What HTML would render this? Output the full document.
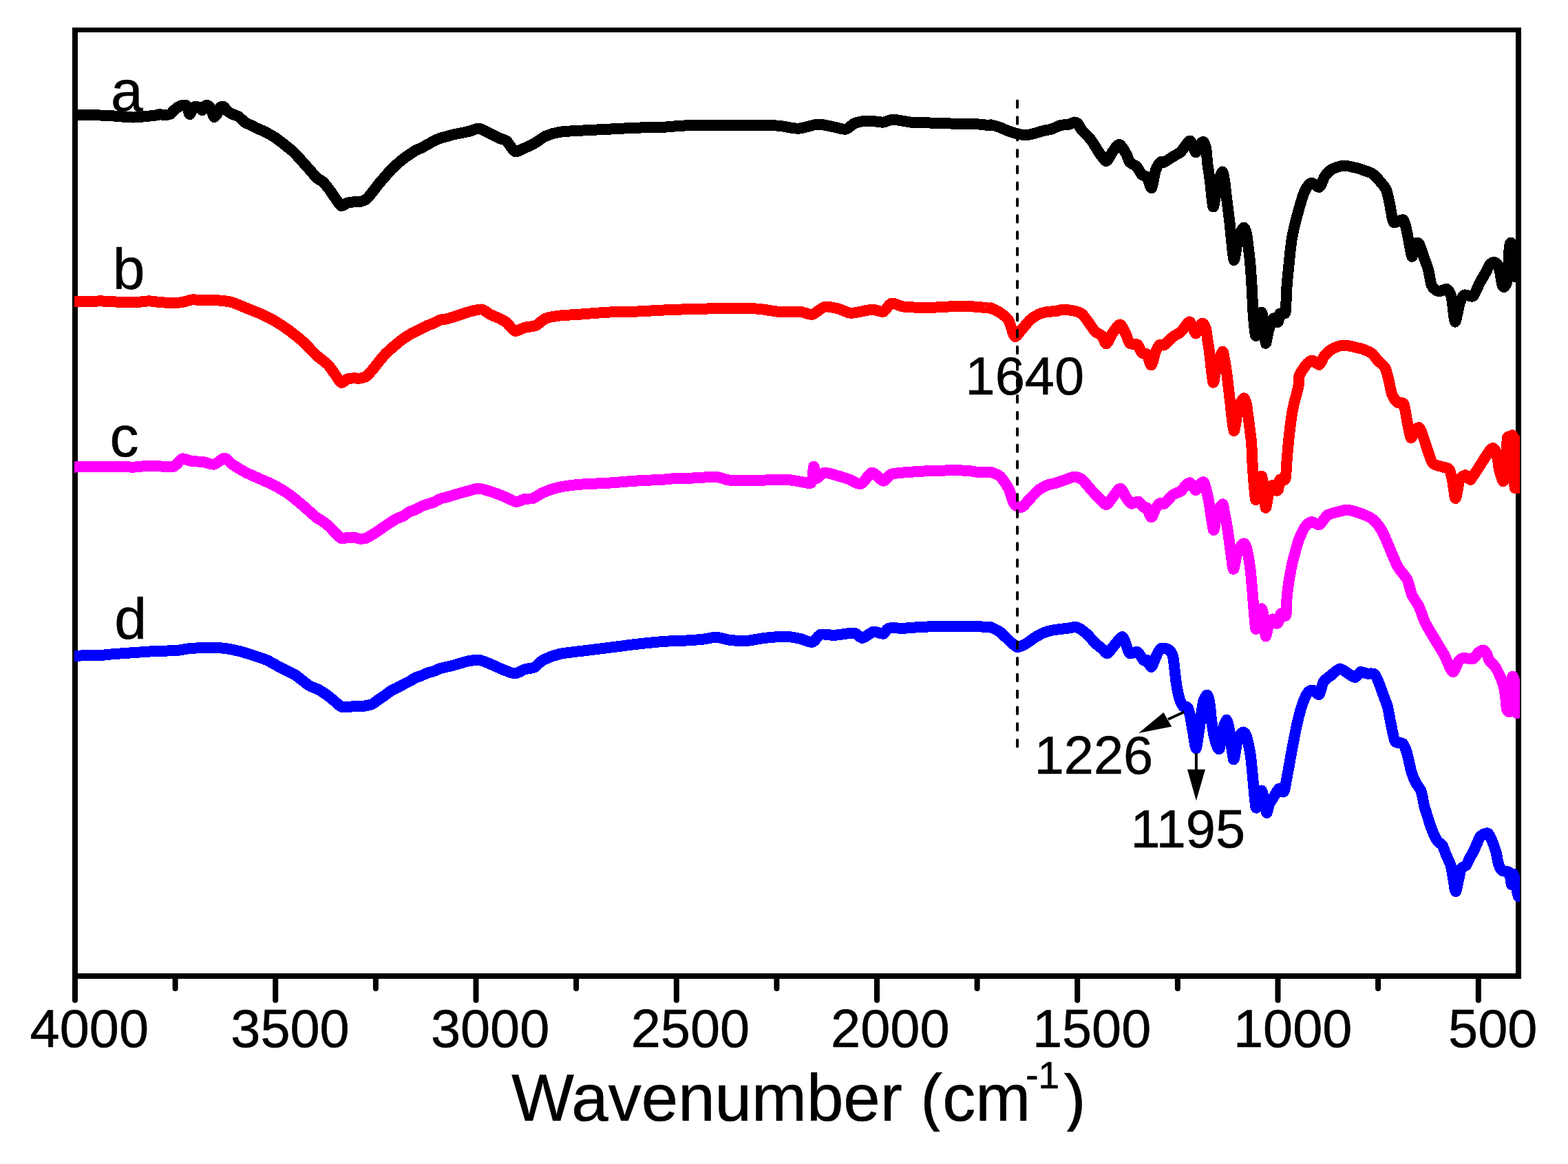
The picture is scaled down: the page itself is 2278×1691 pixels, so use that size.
<!DOCTYPE html><html><head><meta charset="utf-8"><title>FTIR spectra</title><style>html,body{margin:0;padding:0;background:#fff;}svg{display:block;}text{font-family:"Liberation Sans",Arial,sans-serif;}</style></head><body>
<svg xmlns="http://www.w3.org/2000/svg" width="2278" height="1691" viewBox="0 0 2278 1691">
<defs><clipPath id="pc"><rect x="108" y="40" width="2100" height="1380"/></clipPath><clipPath id="all"><rect x="0" y="0" width="2278" height="1644"/></clipPath></defs>
<rect width="2278" height="1691" fill="#fff"/>
<g clip-path="url(#all)">
<g fill="#000">
<rect x="105" y="40" width="105" height="7"/>
<rect x="105" y="40" width="2105" height="7"/>
<rect x="105" y="40" width="8" height="1382"/>
<rect x="2202" y="40" width="8" height="1382"/>
<rect x="105" y="1414" width="2105" height="8"/>
</g>
<path d="M109.0 1418V1453M254.6 1418V1436M400.2 1418V1453M545.9 1418V1436M691.5 1418V1453M837.1 1418V1436M982.8 1418V1453M1128.4 1418V1436M1274.0 1418V1453M1419.6 1418V1436M1565.2 1418V1453M1710.9 1418V1436M1856.5 1418V1453M2002.1 1418V1436M2147.8 1418V1453" stroke="#000" stroke-width="8" stroke-linecap="round" fill="none"/>
<text x="129.8" y="1521.1" font-size="77.5" text-anchor="middle" stroke="#000" stroke-width="0.6">4000</text>
<text x="421.5" y="1521.1" font-size="77.5" text-anchor="middle" stroke="#000" stroke-width="0.6">3500</text>
<text x="712.1" y="1521.1" font-size="77.5" text-anchor="middle" stroke="#000" stroke-width="0.6">3000</text>
<text x="1002.9" y="1521.0" font-size="77.5" text-anchor="middle" stroke="#000" stroke-width="0.6">2500</text>
<text x="1293.3" y="1521.0" font-size="77.5" text-anchor="middle" stroke="#000" stroke-width="0.6">2000</text>
<text x="1586.1" y="1521.0" font-size="77.5" text-anchor="middle" stroke="#000" stroke-width="0.6">1500</text>
<text x="1878.2" y="1521.1" font-size="77.5" text-anchor="middle" stroke="#000" stroke-width="0.6">1000</text>
<text x="2168.7" y="1521.1" font-size="77.5" text-anchor="middle" stroke="#000" stroke-width="0.6">500</text>
<text x="743.3" y="1628.3" font-size="96" stroke="#000" stroke-width="0.6">Wavenumber (cm</text>
<text x="1490.2" y="1580.7" font-size="55" stroke="#000" stroke-width="0.6">-1</text>
<text x="1545.4" y="1628.5" font-size="96" stroke="#000" stroke-width="0.6">)</text>
<text x="160.9" y="161.0" font-size="84" stroke="#000" stroke-width="0.6">a</text>
<text x="163.8" y="419.5" font-size="84" stroke="#000" stroke-width="0.6">b</text>
<text x="159.5" y="663.0" font-size="84" stroke="#000" stroke-width="0.6">c</text>
<text x="166.2" y="928.3" font-size="84" stroke="#000" stroke-width="0.6">d</text>
<text x="1402.6" y="572.6" font-size="77.5" stroke="#000" stroke-width="0.6">1640</text>
<text x="1502.7" y="1124.1" font-size="77.5" stroke="#000" stroke-width="0.6">1226</text>
<text x="1642.4" y="1230.7" font-size="77.5" stroke="#000" stroke-width="0.6">1195</text>
<g clip-path="url(#pc)" fill="none" stroke-width="16" stroke-linejoin="round" stroke-linecap="round" shape-rendering="crispEdges">
<path d="M108.0 167.5C108.7 167.5 108.0 167.5 113.0 167.5C118.0 167.5 138.4 167.4 145.4 167.5C152.4 167.6 159.1 168.1 165.6 168.5C172.1 168.9 185.9 170.6 194.0 170.5C202.1 170.4 221.5 168.0 226.3 167.5C231.1 167.0 227.4 166.5 230.0 166.4C232.6 166.3 243.1 167.1 246.0 166.4C248.9 165.7 250.4 162.4 252.0 161.0C253.6 159.6 256.3 157.1 258.0 156.0C259.7 154.9 263.4 153.4 265.0 153.0C266.6 152.6 268.9 152.3 270.0 153.0C271.1 153.7 272.3 156.3 273.0 158.0C273.7 159.7 274.7 165.7 275.5 166.0C276.3 166.3 278.0 161.5 279.0 160.0C280.0 158.5 281.7 155.5 283.0 155.0C284.3 154.5 287.5 155.3 289.0 156.0C290.5 156.7 292.8 160.3 294.0 160.0C295.2 159.7 297.1 154.9 298.0 154.0C298.9 153.1 300.1 152.7 301.0 153.0C301.9 153.3 304.1 154.8 305.0 156.0C305.9 157.2 307.2 160.1 308.0 162.0C308.8 163.9 310.1 169.5 311.0 170.0C311.9 170.5 313.8 167.9 315.0 166.0C316.2 164.1 318.7 157.5 320.0 156.0C321.3 154.5 323.7 154.3 325.0 155.0C326.3 155.7 328.3 159.5 330.0 161.0C331.7 162.5 335.6 164.8 337.8 165.9C340.0 167.0 344.4 167.9 346.8 169.5C349.2 171.1 353.4 175.9 355.8 177.6C358.2 179.3 362.4 180.8 364.8 182.0C367.2 183.2 371.4 185.5 373.8 186.6C376.2 187.7 380.4 189.4 382.8 190.5C385.2 191.6 389.3 193.8 391.7 195.1C394.1 196.4 398.3 198.9 400.7 200.5C403.1 202.1 407.3 205.4 409.7 207.3C412.1 209.2 416.3 212.5 418.7 214.5C421.1 216.5 423.7 218.0 427.7 222.1C431.7 226.2 444.4 240.5 448.7 245.3C453.0 250.1 457.3 255.8 460.0 258.3C462.7 260.8 466.6 261.8 469.0 264.0C471.4 266.2 475.6 271.6 478.0 274.8C480.4 278.0 484.6 284.6 487.0 287.8C489.4 291.0 493.5 298.1 495.9 299.0C498.3 299.9 502.5 295.3 504.9 294.6C507.3 293.9 511.5 293.6 513.9 293.4C516.3 293.2 520.5 293.5 522.9 293.0C525.3 292.5 529.5 291.4 531.9 289.6C534.3 287.8 538.5 282.2 540.9 279.3C543.3 276.4 547.4 270.5 549.8 267.6C552.2 264.7 556.4 260.1 558.8 257.3C561.2 254.5 565.4 249.4 567.8 246.9C570.2 244.4 574.4 240.5 576.8 238.4C579.2 236.3 583.4 232.7 585.8 230.8C588.2 228.9 592.4 226.1 594.8 224.5C597.2 222.9 601.4 219.9 603.8 218.6C606.2 217.3 610.3 215.8 612.7 214.6C615.1 213.4 619.3 210.9 621.7 209.6C624.1 208.3 628.3 205.9 630.7 204.7C633.1 203.5 637.3 201.5 639.7 200.7C642.1 199.9 646.3 199.1 648.7 198.4C651.1 197.7 653.3 196.7 657.7 195.7C662.1 194.7 676.4 192.0 681.5 190.8C686.6 189.6 691.7 186.3 695.7 186.7C699.7 187.1 707.8 191.9 711.8 193.8C715.8 195.7 722.8 199.4 726.0 200.9C729.2 202.4 733.0 202.5 736.0 205.0C739.0 207.5 744.7 218.7 748.2 220.0C751.7 221.3 758.4 216.7 762.4 215.0C766.4 213.3 774.5 209.3 778.5 207.0C782.5 204.7 788.1 199.8 792.7 197.8C797.3 195.8 806.3 192.9 813.0 191.8C819.7 190.7 833.8 190.2 843.2 189.7C852.6 189.2 872.9 188.2 883.7 187.7C894.5 187.2 913.2 186.1 924.0 185.7C934.8 185.3 955.7 185.1 964.5 184.7C973.3 184.3 982.5 183.1 990.0 182.7C997.5 182.3 1010.9 181.8 1020.4 181.7C1029.9 181.6 1050.1 181.6 1060.9 181.7C1071.7 181.8 1091.9 182.2 1101.3 182.3C1110.7 182.4 1123.8 182.1 1131.6 182.7C1139.4 183.3 1152.5 187.0 1160.0 186.7C1167.5 186.4 1181.2 180.9 1188.2 180.6C1195.2 180.3 1207.1 183.8 1212.5 184.7C1217.9 185.6 1224.6 188.5 1228.6 187.7C1232.6 186.9 1238.2 180.2 1242.8 178.6C1247.4 177.0 1257.6 175.7 1263.0 175.6C1268.4 175.5 1278.6 177.9 1283.2 177.6C1287.8 177.3 1292.0 173.6 1297.4 173.6C1302.8 173.6 1316.2 176.9 1323.7 177.6C1331.2 178.3 1345.9 178.3 1354.0 178.6C1362.1 178.9 1375.5 179.4 1384.3 179.6C1393.1 179.8 1412.8 180.1 1420.0 180.4C1427.2 180.7 1435.3 182.1 1438.0 182.2C1440.7 182.3 1438.1 181.0 1440.0 181.4C1441.9 181.8 1449.2 183.8 1452.6 185.0C1456.0 186.2 1461.9 189.3 1465.2 190.5C1468.5 191.7 1474.4 193.4 1477.7 194.2C1481.0 195.0 1486.9 196.4 1490.3 196.3C1493.7 196.2 1499.5 194.6 1502.9 193.8C1506.3 193.0 1512.2 190.8 1515.5 190.0C1518.8 189.2 1524.7 188.6 1528.0 187.5C1531.3 186.4 1537.2 183.0 1540.6 182.1C1544.0 181.2 1550.5 181.4 1553.2 180.8C1555.9 180.2 1559.1 177.6 1560.8 177.5C1562.5 177.4 1564.5 178.4 1566.0 180.0C1567.5 181.6 1569.6 186.6 1572.1 189.6C1574.6 192.6 1581.4 198.4 1584.7 202.8C1588.0 207.2 1594.2 218.1 1597.2 222.3C1600.2 226.5 1604.8 234.2 1607.3 234.0C1609.8 233.8 1613.6 224.2 1616.1 221.0C1618.6 217.8 1623.5 209.5 1626.2 209.8C1628.9 210.1 1634.2 220.2 1636.2 223.6C1638.2 227.0 1639.3 233.0 1641.3 235.5C1643.3 238.0 1649.0 239.7 1651.3 242.1C1653.6 244.5 1656.9 251.7 1658.9 253.8C1660.9 255.9 1664.5 254.9 1666.4 257.5C1668.3 260.1 1671.3 274.4 1673.0 273.0C1674.7 271.6 1677.2 252.1 1679.0 247.0C1680.8 241.9 1684.8 236.5 1686.5 235.0C1688.2 233.5 1689.2 236.5 1691.6 235.5C1694.0 234.5 1701.1 229.3 1704.2 227.4C1707.3 225.5 1712.6 223.1 1715.0 221.0C1717.4 218.9 1720.1 214.2 1722.0 212.0C1723.9 209.8 1727.5 203.6 1729.5 204.8C1731.5 206.0 1735.3 220.0 1736.8 221.2C1738.3 222.4 1739.5 216.0 1741.0 214.0C1742.5 212.0 1746.2 205.9 1747.7 206.0C1749.2 206.1 1751.1 210.7 1752.0 215.0C1752.9 219.3 1753.6 232.0 1754.4 238.4C1755.2 244.8 1757.0 254.5 1758.0 262.7C1759.0 270.9 1761.1 297.0 1762.2 300.0C1763.3 303.0 1765.0 289.5 1766.0 285.0C1767.0 280.5 1768.7 270.7 1770.0 266.0C1771.3 261.3 1774.4 250.1 1775.6 249.6C1776.8 249.1 1778.2 257.0 1779.0 262.0C1779.8 267.0 1780.9 278.7 1781.9 286.9C1782.9 295.1 1785.1 311.1 1786.5 323.2C1787.9 335.3 1791.0 373.9 1792.5 377.5C1794.0 381.1 1796.6 355.5 1798.0 350.0C1799.4 344.5 1801.7 338.6 1803.0 336.0C1804.3 333.4 1806.4 330.3 1807.5 330.8C1808.6 331.3 1810.2 336.2 1811.0 340.0C1811.8 343.8 1813.0 353.9 1813.7 359.6C1814.4 365.3 1815.6 374.8 1816.3 382.7C1817.0 390.6 1818.2 409.3 1818.8 419.0C1819.4 428.7 1819.9 446.1 1820.6 455.3C1821.3 464.5 1823.2 485.8 1824.2 487.8C1825.2 489.8 1826.9 474.5 1828.0 470.0C1829.1 465.5 1831.6 453.8 1832.7 453.8C1833.8 453.8 1835.2 464.0 1836.0 470.0C1836.8 476.0 1837.9 497.4 1838.8 498.7C1839.7 500.0 1841.5 484.8 1843.0 480.0C1844.5 475.2 1848.4 464.4 1849.7 462.8C1851.0 461.2 1852.0 467.4 1853.0 468.0C1854.0 468.6 1856.1 469.0 1856.9 467.4C1857.7 465.8 1858.4 457.5 1859.3 456.0C1860.2 454.5 1862.9 456.5 1864.0 456.0C1865.1 455.5 1867.1 456.9 1867.8 452.0C1868.5 447.1 1868.6 428.2 1869.3 419.0C1870.0 409.8 1871.7 392.4 1872.7 382.7C1873.7 373.0 1875.2 356.0 1876.9 346.3C1878.6 336.6 1882.9 319.2 1885.4 310.0C1887.9 300.8 1892.9 283.4 1895.6 277.5C1898.3 271.6 1902.5 266.7 1905.3 265.9C1908.1 265.1 1914.3 273.0 1916.9 271.7C1919.5 270.4 1922.3 259.6 1924.6 256.2C1926.9 252.8 1930.7 248.6 1934.3 246.5C1937.9 244.4 1946.6 241.0 1951.8 240.7C1957.0 240.4 1969.2 243.7 1973.0 244.6C1976.8 245.5 1977.3 246.1 1980.0 247.1C1982.7 248.1 1990.2 249.9 1993.6 252.2C1997.0 254.5 2002.7 260.9 2005.4 264.1C2008.1 267.3 2012.1 271.6 2013.9 275.9C2015.7 280.2 2017.7 290.2 2019.0 296.3C2020.3 302.4 2022.4 318.3 2024.0 321.7C2025.6 325.1 2028.8 321.9 2030.8 321.7C2032.8 321.5 2037.5 317.7 2039.3 320.0C2041.1 322.3 2042.8 331.6 2044.4 338.6C2046.0 345.6 2049.8 370.2 2051.2 372.5C2052.6 374.8 2053.2 358.1 2054.6 355.6C2056.0 353.1 2059.6 351.6 2061.4 353.9C2063.2 356.2 2066.3 367.5 2068.1 372.5C2069.9 377.5 2073.3 385.5 2074.9 391.2C2076.5 396.9 2078.0 410.6 2080.0 414.9C2082.0 419.2 2087.3 422.7 2090.2 423.4C2093.1 424.1 2099.5 418.9 2102.0 420.0C2104.5 421.1 2107.2 425.6 2108.8 431.9C2110.4 438.2 2112.3 466.4 2113.9 467.5C2115.5 468.6 2118.9 445.5 2120.7 440.3C2122.5 435.1 2124.9 429.8 2127.5 428.5C2130.1 427.2 2137.1 432.5 2140.0 430.3C2142.9 428.1 2146.7 416.7 2149.1 412.2C2151.5 407.7 2156.2 399.9 2158.2 396.3C2160.2 392.7 2162.4 387.0 2164.0 385.0C2165.6 383.0 2168.5 381.1 2170.0 381.0C2171.5 380.9 2173.8 382.1 2175.0 384.0C2176.2 385.9 2178.1 391.3 2179.0 395.0C2179.9 398.7 2181.2 409.1 2182.0 412.0C2182.8 414.9 2184.1 417.3 2185.0 417.0C2185.9 416.7 2188.2 413.6 2189.0 410.0C2189.8 406.4 2190.5 396.9 2191.0 390.0C2191.5 383.1 2192.3 362.8 2193.0 358.0C2193.7 353.2 2195.2 351.1 2196.0 354.0C2196.8 356.9 2198.3 373.6 2199.0 380.0C2199.7 386.4 2200.2 400.0 2201.0 402.0C2201.8 404.0 2203.9 395.9 2205.0 395.0C2206.1 394.1 2208.5 395.0 2209.0 395.0" stroke="#000000"/>
<path d="M108.0 438.4C110.3 438.4 120.2 438.5 125.2 438.4C130.2 438.3 140.0 437.4 145.4 437.4C150.8 437.4 159.1 438.1 165.6 438.4C172.1 438.7 187.3 439.5 194.0 439.4C200.7 439.3 210.5 437.4 216.2 437.4C221.9 437.4 230.2 439.1 236.4 439.4C242.6 439.7 257.0 439.9 262.7 439.4C268.4 438.9 274.6 435.8 278.9 435.4C283.2 435.0 289.9 436.3 295.0 436.4C300.1 436.5 311.6 436.0 317.3 436.4C323.0 436.8 332.1 437.9 337.5 439.4C342.9 440.9 352.3 445.3 357.7 447.5C363.1 449.7 372.5 453.2 377.9 455.6C383.3 458.0 392.7 462.6 398.1 465.7C403.5 468.8 412.9 474.9 418.3 478.8C423.7 482.7 433.0 490.0 438.6 495.0C444.2 500.0 455.9 512.6 460.0 516.4C464.1 520.2 466.6 521.6 469.0 523.6C471.4 525.6 475.6 528.9 478.0 531.6C480.4 534.3 484.6 541.0 487.0 544.2C489.4 547.4 493.5 555.1 495.9 555.9C498.3 556.7 502.5 551.4 504.9 550.5C507.3 549.6 511.5 549.5 513.9 549.4C516.3 549.3 520.5 549.9 522.9 549.6C525.3 549.3 529.5 548.5 531.9 546.9C534.3 545.3 538.5 540.2 540.9 537.5C543.3 534.8 547.4 529.2 549.8 526.3C552.2 523.4 556.4 518.1 558.8 515.5C561.2 512.9 565.4 509.1 567.8 506.9C570.2 504.7 574.4 501.3 576.8 499.3C579.2 497.3 583.4 493.8 585.8 492.1C588.2 490.4 592.4 487.7 594.8 486.3C597.2 484.9 601.4 483.0 603.8 481.8C606.2 480.6 610.3 478.5 612.7 477.3C615.1 476.1 619.3 473.9 621.7 472.8C624.1 471.7 628.3 470.3 630.7 469.2C633.1 468.1 637.3 465.5 639.7 464.7C642.1 463.9 646.3 463.9 648.7 463.4C651.1 462.9 653.3 462.1 657.7 460.7C662.1 459.3 675.9 454.5 681.5 453.0C687.1 451.5 695.7 449.0 699.7 449.5C703.7 450.0 708.3 454.8 711.8 456.6C715.3 458.4 722.8 461.1 726.0 462.7C729.2 464.3 733.0 466.3 736.0 468.7C739.0 471.1 744.7 480.0 748.2 480.9C751.7 481.8 758.4 476.9 762.4 475.8C766.4 474.7 774.5 474.5 778.5 472.8C782.5 471.1 788.1 464.6 792.7 462.7C797.3 460.8 806.3 459.4 813.0 458.6C819.7 457.8 833.8 457.3 843.2 456.6C852.6 455.9 872.9 454.1 883.7 453.6C894.5 453.1 913.2 453.0 924.0 452.6C934.8 452.2 955.7 450.9 964.5 450.5C973.3 450.1 982.5 449.7 990.0 449.5C997.5 449.3 1010.9 448.9 1020.4 448.7C1029.9 448.5 1050.1 447.7 1060.9 447.7C1071.7 447.7 1091.9 448.0 1101.3 448.7C1110.7 449.4 1123.5 452.3 1131.6 452.8C1139.7 453.3 1155.5 452.3 1162.0 452.8C1168.5 453.3 1175.3 457.7 1180.1 456.8C1184.9 455.9 1193.2 446.8 1198.3 445.7C1203.4 444.6 1213.4 447.5 1218.5 448.7C1223.6 449.9 1230.2 454.7 1236.7 454.8C1243.2 454.9 1260.8 450.0 1267.0 449.7C1273.2 449.4 1279.4 454.0 1283.2 452.8C1287.0 451.6 1291.3 441.5 1295.4 440.6C1299.5 439.7 1305.8 444.9 1313.6 445.7C1321.4 446.5 1343.2 446.8 1354.0 446.7C1364.8 446.6 1385.6 444.8 1394.4 444.7C1403.2 444.6 1414.2 445.5 1420.0 445.9C1425.8 446.3 1435.3 447.5 1438.0 447.7C1440.7 447.9 1438.1 446.9 1440.0 447.7C1441.9 448.5 1449.2 451.7 1452.6 454.0C1456.0 456.3 1462.3 460.7 1465.2 465.3C1468.1 469.9 1471.5 486.8 1474.0 488.7C1476.5 490.6 1481.0 482.4 1484.0 479.2C1487.0 476.0 1493.2 467.7 1496.6 464.7C1500.0 461.7 1505.8 458.1 1509.2 456.5C1512.6 454.9 1518.5 453.6 1521.8 453.0C1525.1 452.4 1531.5 452.5 1534.3 452.1C1537.1 451.7 1539.7 450.1 1543.1 450.0C1546.5 449.9 1555.6 450.7 1559.5 451.5C1563.4 452.3 1568.7 453.4 1572.1 456.3C1575.5 459.2 1582.2 469.5 1584.7 472.9C1587.2 476.3 1588.8 479.7 1591.0 481.7C1593.2 483.7 1598.8 485.6 1601.0 488.0C1603.2 490.4 1605.3 499.9 1607.3 499.4C1609.3 498.9 1613.4 487.9 1616.1 484.2C1618.8 480.5 1624.7 471.2 1627.4 471.5C1630.1 471.8 1634.3 483.1 1636.2 486.7C1638.1 490.3 1639.1 496.8 1641.3 498.7C1643.5 500.6 1650.3 499.0 1652.6 500.8C1654.9 502.6 1657.1 510.6 1658.9 512.5C1660.7 514.4 1664.6 512.6 1666.4 515.0C1668.2 517.4 1671.0 530.9 1672.7 530.3C1674.4 529.7 1677.3 514.5 1679.0 510.6C1680.7 506.7 1683.6 502.1 1685.3 500.8C1687.0 499.5 1689.1 502.7 1691.6 501.2C1694.1 499.7 1701.1 491.7 1704.2 489.2C1707.3 486.7 1712.6 484.7 1715.0 482.7C1717.4 480.7 1720.1 476.0 1722.0 474.0C1723.9 472.0 1726.9 466.4 1728.9 467.8C1730.9 469.2 1735.2 483.1 1736.8 484.3C1738.4 485.5 1739.6 479.0 1741.0 477.0C1742.4 475.0 1745.6 469.5 1747.1 469.6C1748.6 469.7 1751.0 474.6 1752.0 478.0C1753.0 481.4 1753.8 490.7 1754.5 495.0C1755.2 499.3 1756.0 502.6 1757.0 510.6C1758.0 518.6 1761.0 551.2 1762.2 555.1C1763.4 559.0 1765.0 544.0 1766.0 540.0C1767.0 536.0 1768.6 528.9 1770.0 525.0C1771.4 521.1 1775.0 511.2 1776.2 510.8C1777.4 510.4 1778.1 517.2 1779.0 522.0C1779.9 526.8 1781.7 538.7 1782.8 546.9C1783.9 555.1 1785.8 572.7 1787.1 583.2C1788.4 593.7 1791.0 624.0 1792.5 626.0C1794.0 628.0 1796.6 603.6 1798.0 598.0C1799.4 592.4 1801.7 586.6 1803.0 584.0C1804.3 581.4 1806.4 578.0 1807.5 578.5C1808.6 579.0 1810.2 584.1 1811.0 588.0C1811.8 591.9 1812.7 599.8 1813.7 607.4C1814.7 615.0 1817.4 635.0 1818.2 644.8C1819.0 654.6 1819.2 670.3 1820.0 681.1C1820.8 691.9 1823.1 722.1 1824.2 725.7C1825.3 729.3 1826.9 712.5 1828.0 708.0C1829.1 703.5 1831.6 691.3 1832.7 691.6C1833.8 691.9 1835.2 703.8 1836.0 710.0C1836.8 716.2 1837.9 736.7 1838.8 737.8C1839.7 738.9 1841.7 722.4 1843.0 718.0C1844.3 713.6 1847.1 705.8 1848.4 705.0C1849.7 704.2 1851.9 711.1 1853.0 712.0C1854.1 712.9 1856.1 713.4 1856.9 711.4C1857.7 709.4 1858.4 698.8 1859.3 697.0C1860.2 695.2 1862.9 698.4 1864.0 698.0C1865.1 697.6 1867.1 697.9 1867.8 694.0C1868.5 690.1 1868.9 677.2 1869.6 669.0C1870.3 660.8 1871.8 642.4 1872.9 632.7C1874.0 623.0 1876.0 606.0 1877.8 596.3C1879.6 586.6 1885.3 566.8 1886.6 560.0C1887.9 553.2 1886.1 549.5 1887.8 545.2C1889.5 540.9 1896.9 530.6 1899.5 527.8C1902.1 525.0 1904.9 523.6 1907.2 523.9C1909.5 524.2 1914.6 530.7 1916.9 529.7C1919.2 528.7 1921.8 519.4 1924.6 516.2C1927.4 513.0 1934.3 507.4 1938.2 505.5C1942.1 503.6 1949.1 501.6 1953.7 501.6C1958.3 501.6 1969.5 504.8 1973.0 505.5C1976.5 506.2 1977.3 506.0 1980.0 507.1C1982.7 508.2 1990.7 511.6 1993.6 513.9C1996.5 516.2 1999.5 521.3 2002.0 524.0C2004.5 526.7 2010.2 530.6 2012.2 534.2C2014.2 537.8 2015.9 546.0 2017.3 551.2C2018.7 556.4 2020.6 568.7 2022.4 573.2C2024.2 577.7 2028.5 583.3 2030.8 585.1C2033.1 586.9 2037.5 583.2 2039.3 586.8C2041.1 590.4 2043.0 605.7 2044.4 612.2C2045.8 618.7 2047.9 634.3 2049.5 635.9C2051.1 637.5 2054.5 625.9 2056.3 624.1C2058.1 622.3 2061.2 620.1 2063.0 622.4C2064.8 624.7 2068.0 635.8 2069.8 641.0C2071.6 646.2 2075.0 657.1 2076.6 661.4C2078.2 665.7 2079.2 670.9 2081.7 673.2C2084.2 675.5 2092.1 677.2 2095.3 678.3C2098.5 679.4 2103.4 678.8 2105.4 681.7C2107.4 684.6 2109.3 694.6 2110.5 700.3C2111.7 706.0 2113.3 724.6 2114.7 724.1C2116.1 723.6 2118.8 701.4 2120.7 696.9C2122.6 692.4 2127.2 690.2 2129.2 690.2C2131.2 690.2 2134.5 696.7 2135.9 696.9C2137.3 697.1 2138.2 694.2 2140.0 691.7C2141.8 689.2 2146.7 681.7 2149.1 678.0C2151.5 674.3 2156.2 666.7 2158.2 663.6C2160.2 660.5 2162.6 656.7 2164.0 655.0C2165.4 653.3 2167.8 650.9 2169.0 651.0C2170.2 651.1 2172.1 653.7 2173.0 656.0C2173.9 658.3 2175.3 664.5 2176.0 668.0C2176.7 671.5 2177.3 678.8 2178.0 682.0C2178.7 685.2 2180.2 689.7 2181.0 692.0C2181.8 694.3 2183.2 699.3 2184.0 699.0C2184.8 698.7 2186.4 695.2 2187.0 690.0C2187.6 684.8 2188.1 667.2 2188.5 660.0C2188.9 652.8 2189.4 638.7 2190.0 636.0C2190.6 633.3 2192.5 633.3 2193.0 640.0C2193.5 646.7 2193.6 686.5 2194.0 686.0C2194.4 685.5 2195.3 642.1 2196.0 636.0C2196.7 629.9 2198.5 631.5 2199.0 640.0C2199.5 648.5 2199.6 691.3 2200.0 700.0C2200.4 708.7 2201.5 713.0 2202.0 705.0C2202.5 697.0 2203.5 640.0 2204.0 640.0C2204.5 640.0 2205.3 696.3 2206.0 705.0C2206.7 713.7 2208.6 705.0 2209.0 705.0" stroke="#ff0000"/>
<path d="M108.0 678.6C110.3 678.5 120.2 677.7 125.2 677.6C130.2 677.5 140.0 677.6 145.4 677.6C150.8 677.6 159.1 677.5 165.6 677.6C172.1 677.7 187.3 678.7 194.0 678.6C200.7 678.5 210.5 676.7 216.2 676.6C221.9 676.5 231.5 677.5 236.4 677.6C241.3 677.7 248.8 679.1 252.6 677.6C256.4 676.1 261.5 667.6 264.7 666.5C267.9 665.4 272.5 668.8 276.8 669.5C281.1 670.2 292.4 670.8 297.0 671.5C301.6 672.2 307.3 675.4 311.2 674.6C315.1 673.8 322.9 665.5 326.4 665.5C329.9 665.5 333.3 671.8 337.5 674.6C341.7 677.4 352.3 683.9 357.7 686.7C363.1 689.5 372.5 693.4 377.9 695.8C383.3 698.2 392.7 702.1 398.1 704.9C403.5 707.7 412.9 713.2 418.3 717.0C423.7 720.8 433.0 728.5 438.6 733.2C444.2 737.9 455.9 748.8 460.0 752.0C464.1 755.2 466.6 755.7 469.0 757.4C471.4 759.1 475.6 762.4 478.0 764.6C480.4 766.8 484.6 771.7 487.0 774.0C489.4 776.3 493.5 781.2 495.9 782.1C498.3 783.0 502.5 781.1 504.9 780.9C507.3 780.7 511.5 780.5 513.9 780.7C516.3 780.9 520.5 782.6 522.9 782.7C525.3 782.8 529.5 782.6 531.9 781.8C534.3 781.0 538.5 778.1 540.9 776.7C543.3 775.3 547.4 772.6 549.8 771.0C552.2 769.4 556.4 766.2 558.8 764.6C561.2 763.0 565.4 760.2 567.8 758.7C570.2 757.2 574.4 754.5 576.8 753.3C579.2 752.1 583.4 751.0 585.8 749.7C588.2 748.4 592.4 744.8 594.8 743.5C597.2 742.2 601.4 741.4 603.8 740.3C606.2 739.2 610.3 736.5 612.7 735.4C615.1 734.3 619.3 733.0 621.7 732.2C624.1 731.4 628.3 730.5 630.7 729.5C633.1 728.5 637.3 725.6 639.7 724.6C642.1 723.6 646.3 723.0 648.7 722.3C651.1 721.6 653.3 720.9 657.7 719.6C662.1 718.3 676.4 714.1 681.5 712.8C686.6 711.5 691.7 709.6 695.7 709.7C699.7 709.8 707.8 712.6 711.8 713.8C715.8 715.0 722.8 717.6 726.0 718.8C729.2 720.0 732.8 721.5 736.0 722.9C739.2 724.3 746.7 728.7 750.2 729.0C753.7 729.3 759.2 725.6 762.4 724.9C765.6 724.2 771.0 725.1 774.5 723.9C778.0 722.7 783.5 718.0 788.6 715.8C793.7 713.6 805.7 709.3 813.0 707.7C820.3 706.1 833.8 704.5 843.2 703.7C852.6 702.9 872.9 702.4 883.7 701.7C894.5 701.0 913.2 699.3 924.0 698.6C934.8 697.9 957.0 697.1 964.5 696.6C972.0 696.1 973.9 695.5 980.0 695.2C986.1 694.9 1002.2 694.7 1010.3 694.4C1018.4 694.1 1033.9 692.3 1040.6 692.8C1047.3 693.3 1052.8 697.1 1060.9 697.8C1069.0 698.5 1090.5 697.9 1101.3 697.8C1112.1 697.7 1133.3 696.5 1141.7 696.8C1150.1 697.1 1159.0 699.4 1164.0 699.9C1169.0 700.4 1176.6 703.9 1179.0 700.9C1181.4 697.9 1181.2 678.4 1182.2 677.6C1183.2 676.8 1184.1 693.6 1186.2 694.8C1188.3 696.0 1193.4 687.0 1198.3 686.7C1203.2 686.4 1217.7 691.5 1222.6 692.8C1227.5 694.1 1230.9 695.5 1234.7 696.8C1238.5 698.1 1246.6 704.2 1250.9 702.9C1255.2 701.6 1262.7 687.2 1267.0 686.7C1271.3 686.2 1279.4 698.5 1283.2 698.8C1287.0 699.1 1290.0 690.4 1295.4 688.7C1300.8 687.0 1314.5 686.4 1323.7 685.7C1332.9 685.0 1353.3 684.0 1364.1 683.7C1374.9 683.4 1397.0 683.4 1404.5 683.7C1412.0 684.0 1415.5 685.5 1420.0 685.8C1424.5 686.1 1435.3 685.7 1438.0 685.8C1440.7 685.9 1438.1 685.4 1440.0 686.2C1441.9 687.0 1449.2 688.7 1452.6 691.8C1456.0 694.9 1462.5 704.5 1465.2 709.7C1467.9 714.9 1471.0 727.0 1472.7 730.5C1474.4 734.0 1476.0 734.9 1477.7 735.7C1479.4 736.5 1482.8 737.8 1485.3 736.3C1487.8 734.8 1493.4 727.5 1496.6 724.2C1499.8 720.9 1505.8 714.2 1509.2 711.6C1512.6 709.0 1518.5 706.0 1521.8 704.7C1525.1 703.4 1531.0 702.6 1534.3 701.6C1537.6 700.6 1543.4 698.4 1546.9 697.2C1550.4 696.0 1557.4 692.9 1560.8 692.8C1564.2 692.7 1568.9 694.4 1572.1 696.8C1575.3 699.2 1581.4 707.3 1584.7 711.0C1588.0 714.7 1594.2 721.3 1597.2 724.2C1600.2 727.1 1604.8 733.3 1607.3 733.1C1609.8 732.9 1613.4 726.1 1616.1 723.0C1618.8 719.9 1624.7 709.6 1627.4 709.6C1630.1 709.6 1634.0 720.0 1636.2 723.0C1638.4 726.0 1641.5 731.1 1643.8 731.8C1646.1 732.5 1651.5 727.8 1653.8 728.5C1656.1 729.2 1659.7 735.5 1661.4 736.8C1663.1 738.1 1664.9 736.1 1666.4 738.0C1667.9 739.9 1671.0 751.3 1672.7 751.4C1674.4 751.5 1677.3 741.4 1679.0 738.7C1680.7 736.0 1683.6 732.0 1685.3 731.1C1687.0 730.2 1689.1 733.5 1691.6 731.8C1694.1 730.1 1701.1 721.0 1704.2 718.6C1707.3 716.2 1712.6 715.6 1715.0 713.9C1717.4 712.2 1720.1 707.7 1722.0 706.0C1723.9 704.3 1726.9 700.6 1728.9 701.4C1730.9 702.2 1735.2 711.3 1736.8 711.9C1738.4 712.5 1739.5 707.6 1741.0 706.0C1742.5 704.4 1746.8 699.7 1748.3 700.2C1749.8 700.7 1750.9 706.2 1752.0 710.0C1753.1 713.8 1754.8 720.5 1756.2 728.4C1757.6 736.3 1761.5 765.6 1762.8 769.4C1764.1 773.2 1765.0 760.7 1766.0 757.0C1767.0 753.3 1768.6 745.3 1770.0 742.0C1771.4 738.7 1775.0 731.9 1776.2 732.3C1777.4 732.7 1778.1 740.7 1779.0 745.0C1779.9 749.3 1781.6 757.3 1782.8 764.8C1784.0 772.3 1786.7 792.8 1787.9 801.1C1789.1 809.4 1790.7 826.4 1791.9 826.9C1793.1 827.4 1795.5 809.5 1797.0 805.0C1798.5 800.5 1801.5 795.0 1803.0 793.0C1804.5 791.0 1806.8 788.9 1808.0 789.8C1809.2 790.7 1810.9 794.9 1812.0 800.0C1813.1 805.1 1815.6 820.6 1816.6 828.4C1817.6 836.2 1818.4 847.4 1819.4 858.7C1820.4 870.0 1823.1 907.8 1824.2 913.0C1825.3 918.2 1826.8 901.8 1828.0 898.0C1829.2 894.2 1832.2 884.1 1833.3 884.4C1834.4 884.7 1835.3 894.7 1836.0 900.0C1836.7 905.3 1837.9 923.4 1838.8 924.5C1839.7 925.6 1841.7 911.3 1843.0 908.0C1844.3 904.7 1847.1 899.9 1848.4 899.5C1849.7 899.1 1851.9 904.3 1853.0 905.0C1854.1 905.7 1855.9 906.4 1856.9 904.7C1857.9 903.0 1859.5 893.6 1860.6 892.0C1861.7 890.4 1863.9 892.9 1865.0 893.0C1866.1 893.1 1867.8 896.8 1868.5 893.0C1869.2 889.2 1869.0 873.4 1869.9 864.8C1870.8 856.2 1873.4 838.1 1875.3 828.4C1877.2 818.7 1882.6 798.6 1884.4 792.1C1886.2 785.6 1887.2 783.5 1888.7 780.0C1890.2 776.5 1893.4 768.8 1895.6 765.9C1897.8 763.0 1902.5 758.6 1905.3 758.1C1908.1 757.6 1913.8 763.3 1916.9 762.0C1920.0 760.7 1924.9 750.9 1928.5 748.4C1932.1 745.9 1940.1 744.6 1944.0 743.6C1947.9 742.6 1953.7 740.6 1957.6 740.7C1961.5 740.8 1970.0 743.7 1973.0 744.6C1976.0 745.5 1977.3 745.9 1980.0 747.1C1982.7 748.3 1990.2 751.2 1993.6 753.9C1997.0 756.6 2002.7 763.4 2005.4 767.5C2008.1 771.6 2011.6 779.4 2013.9 784.4C2016.2 789.4 2020.1 799.5 2022.4 804.7C2024.7 809.9 2027.9 818.4 2030.8 823.4C2033.7 828.4 2041.7 836.6 2044.4 842.0C2047.1 847.4 2048.9 858.9 2051.2 864.1C2053.5 869.3 2058.9 875.8 2061.4 881.0C2063.9 886.2 2067.5 898.0 2069.8 903.0C2072.1 908.0 2075.8 914.0 2078.3 918.3C2080.8 922.6 2085.8 930.8 2088.5 935.3C2091.2 939.8 2095.7 946.8 2098.6 952.2C2101.5 957.6 2107.8 974.9 2110.5 976.0C2113.2 977.1 2117.0 963.4 2119.0 960.7C2121.0 958.0 2122.6 956.5 2125.4 956.0C2128.2 955.5 2137.0 958.1 2140.0 957.0C2143.0 955.9 2145.9 949.7 2148.0 948.0C2150.1 946.3 2153.8 944.2 2155.4 944.5C2157.0 944.8 2158.9 947.9 2160.0 950.0C2161.1 952.1 2162.4 957.6 2164.0 960.0C2165.6 962.4 2169.8 965.2 2171.8 968.1C2173.8 971.0 2177.4 978.1 2179.0 981.7C2180.6 985.3 2182.9 991.2 2184.0 995.0C2185.1 998.8 2186.3 1005.3 2187.0 1010.0C2187.7 1014.7 2188.1 1027.0 2189.0 1030.0C2189.9 1033.0 2192.8 1036.6 2193.6 1032.6C2194.4 1028.6 2194.5 1006.6 2195.0 1000.0C2195.5 993.4 2196.5 984.3 2197.2 983.0C2197.9 981.7 2199.4 983.7 2200.0 990.0C2200.6 996.3 2201.3 1024.1 2202.0 1030.0C2202.7 1035.9 2204.3 1038.0 2205.0 1034.0C2205.7 1030.0 2206.5 1000.5 2207.0 1000.0C2207.5 999.5 2208.7 1026.0 2209.0 1030.0" stroke="#ff00ff"/>
<path d="M108.0 953.1C110.3 953.0 120.2 952.2 125.2 952.1C130.2 952.0 140.0 952.4 145.4 952.1C150.8 951.8 158.9 950.6 165.6 950.1C172.3 949.6 187.9 948.5 196.0 948.0C204.1 947.5 218.2 946.4 226.3 946.0C234.4 945.6 249.9 945.5 256.6 945.0C263.3 944.5 270.1 942.5 276.8 942.0C283.5 941.5 300.5 941.0 307.2 941.0C313.9 941.0 322.0 941.3 327.4 942.0C332.8 942.7 342.2 944.7 347.6 946.0C353.0 947.3 362.4 950.3 367.8 952.1C373.2 953.9 382.6 956.8 388.0 959.2C393.4 961.6 402.8 967.5 408.2 970.3C413.6 973.1 423.1 977.0 428.5 980.4C433.9 983.8 444.5 992.9 448.7 995.6C452.9 998.3 457.3 999.3 460.0 1000.6C462.7 1001.9 466.6 1004.1 469.0 1005.6C471.4 1007.1 475.6 1010.0 478.0 1011.9C480.4 1013.8 484.6 1017.5 487.0 1019.5C489.4 1021.5 493.5 1025.7 495.9 1026.7C498.3 1027.7 502.5 1027.3 504.9 1027.2C507.3 1027.1 511.5 1026.2 513.9 1026.1C516.3 1026.0 520.5 1026.5 522.9 1026.4C525.3 1026.3 529.5 1025.7 531.9 1025.2C534.3 1024.7 538.5 1024.0 540.9 1022.8C543.3 1021.6 547.4 1018.0 549.8 1016.4C552.2 1014.8 556.4 1012.2 558.8 1010.5C561.2 1008.8 565.4 1005.3 567.8 1003.8C570.2 1002.3 574.4 1000.6 576.8 999.3C579.2 998.0 583.4 995.7 585.8 994.4C588.2 993.1 592.4 991.2 594.8 989.9C597.2 988.6 601.4 985.6 603.8 984.5C606.2 983.4 610.3 982.3 612.7 981.3C615.1 980.3 619.3 978.1 621.7 977.3C624.1 976.5 628.3 975.8 630.7 975.0C633.1 974.2 637.3 971.8 639.7 971.0C642.1 970.2 646.3 969.5 648.7 968.9C651.1 968.3 653.3 968.0 657.7 966.8C662.1 965.6 676.2 961.2 681.5 960.2C686.8 959.2 693.1 958.4 697.7 959.2C702.3 960.0 711.3 964.3 715.9 966.2C720.5 968.1 727.7 971.7 732.0 973.3C736.3 974.9 744.1 978.5 748.2 978.4C752.3 978.3 758.6 973.5 762.4 972.3C766.2 971.1 773.0 971.0 776.5 969.3C780.0 967.6 783.7 961.8 788.6 959.2C793.5 956.6 805.7 951.9 813.0 950.1C820.3 948.3 833.8 947.2 843.2 946.0C852.6 944.8 872.9 942.3 883.7 941.0C894.5 939.7 913.2 937.1 924.0 935.9C934.8 934.7 955.7 932.6 964.5 931.9C973.3 931.2 982.5 931.3 990.0 930.9C997.5 930.5 1013.7 929.5 1020.4 928.8C1027.1 928.1 1035.2 925.7 1040.6 925.8C1046.0 925.9 1055.0 929.2 1060.9 929.9C1066.8 930.6 1078.4 931.3 1085.1 930.9C1091.8 930.5 1103.9 927.6 1111.4 926.8C1118.9 926.0 1135.0 924.7 1141.7 924.8C1148.4 924.9 1156.9 926.7 1162.0 927.8C1167.1 928.9 1176.1 933.7 1180.1 932.9C1184.1 932.1 1188.0 923.1 1192.3 921.8C1196.6 920.5 1206.0 923.1 1212.5 922.8C1219.0 922.5 1235.4 919.2 1240.8 919.7C1246.2 920.2 1249.1 927.1 1252.9 926.8C1256.7 926.5 1265.1 918.5 1269.1 917.7C1273.1 916.9 1280.2 921.5 1283.2 920.8C1286.2 920.1 1287.2 913.8 1291.3 912.7C1295.4 911.6 1306.6 913.0 1313.6 912.7C1320.6 912.4 1334.5 910.9 1343.9 910.6C1353.3 910.3 1374.2 910.2 1384.3 910.2C1394.4 910.2 1412.8 910.2 1420.0 910.3C1427.2 910.4 1435.3 911.1 1438.0 911.2C1440.7 911.3 1438.1 910.5 1440.0 911.4C1441.9 912.3 1449.2 915.6 1452.6 918.0C1456.0 920.4 1461.9 926.8 1465.2 929.7C1468.5 932.6 1474.4 939.2 1477.7 939.9C1481.0 940.6 1486.9 937.1 1490.3 935.3C1493.7 933.5 1499.5 928.6 1502.9 926.5C1506.3 924.4 1512.2 921.0 1515.5 919.6C1518.8 918.2 1524.7 916.5 1528.0 915.8C1531.3 915.1 1537.2 914.5 1540.6 914.0C1544.0 913.5 1550.0 912.8 1553.2 912.4C1556.4 912.0 1561.1 910.2 1564.5 911.3C1567.9 912.4 1574.9 917.5 1578.4 920.5C1581.9 923.5 1588.0 931.2 1591.0 934.1C1594.0 937.0 1598.7 940.3 1601.0 942.3C1603.3 944.3 1606.6 949.5 1608.6 949.3C1610.6 949.1 1613.2 944.2 1616.1 941.0C1619.0 937.8 1627.3 925.7 1630.0 925.2C1632.7 924.7 1634.7 934.0 1636.2 937.2C1637.7 940.4 1639.1 947.9 1641.3 949.2C1643.5 950.5 1649.9 945.9 1652.6 947.2C1655.3 948.5 1659.6 957.6 1661.4 959.2C1663.2 960.8 1664.9 957.9 1666.4 959.2C1667.9 960.5 1671.0 969.4 1672.7 968.8C1674.4 968.2 1677.2 958.4 1679.0 954.8C1680.8 951.2 1684.0 943.6 1686.5 942.1C1689.0 940.6 1695.5 942.3 1697.9 943.9C1700.3 945.5 1702.8 948.1 1704.2 954.2C1705.6 960.3 1707.3 982.0 1708.5 990.0C1709.7 998.0 1711.9 1009.4 1713.3 1014.2C1714.7 1019.0 1717.4 1024.2 1719.0 1026.0C1720.6 1027.8 1724.1 1025.9 1725.4 1027.8C1726.7 1029.7 1728.0 1035.3 1729.0 1040.0C1730.0 1044.7 1731.9 1056.4 1733.0 1062.7C1734.1 1069.0 1736.4 1086.6 1737.5 1087.3C1738.6 1088.0 1740.2 1072.9 1741.0 1068.0C1741.8 1063.1 1742.7 1057.0 1743.6 1050.6C1744.5 1044.2 1746.6 1025.5 1748.0 1020.0C1749.4 1014.5 1752.6 1009.3 1753.9 1009.6C1755.2 1009.9 1756.6 1016.5 1757.5 1022.0C1758.4 1027.5 1759.5 1043.1 1760.6 1050.6C1761.7 1058.1 1764.5 1073.0 1766.0 1078.0C1767.5 1083.0 1770.2 1090.0 1771.5 1087.9C1772.8 1085.8 1774.6 1067.6 1776.0 1062.0C1777.4 1056.4 1780.4 1046.3 1781.7 1046.0C1783.0 1045.7 1784.6 1052.4 1786.0 1060.0C1787.4 1067.6 1790.5 1100.3 1792.0 1103.0C1793.5 1105.7 1795.8 1084.7 1797.0 1080.0C1798.2 1075.3 1799.7 1070.2 1801.0 1068.0C1802.3 1065.8 1805.3 1063.2 1806.6 1063.5C1807.9 1063.8 1809.7 1065.5 1811.0 1070.0C1812.3 1074.5 1815.6 1090.1 1816.7 1096.9C1817.8 1103.7 1818.3 1111.0 1819.3 1121.1C1820.3 1131.2 1823.2 1168.0 1824.5 1172.9C1825.8 1177.8 1827.9 1161.2 1829.0 1158.0C1830.1 1154.8 1831.9 1147.7 1833.0 1148.6C1834.1 1149.5 1836.0 1160.7 1837.0 1165.0C1838.0 1169.3 1839.4 1180.4 1840.3 1180.8C1841.2 1181.2 1843.0 1170.4 1844.0 1168.0C1845.0 1165.6 1846.4 1164.2 1847.5 1162.5C1848.6 1160.8 1850.5 1157.3 1852.0 1155.0C1853.5 1152.7 1856.9 1146.3 1858.4 1145.6C1859.9 1144.9 1862.0 1149.7 1863.0 1150.0C1864.0 1150.3 1864.9 1151.9 1866.0 1148.0C1867.1 1144.1 1869.6 1129.5 1871.2 1121.1C1872.8 1112.7 1875.9 1094.5 1877.8 1084.8C1879.7 1075.1 1883.2 1056.5 1885.1 1048.4C1887.0 1040.3 1889.7 1029.9 1891.7 1024.2C1893.7 1018.5 1898.0 1008.8 1900.2 1006.0C1902.4 1003.2 1905.8 1002.6 1908.0 1003.0C1910.2 1003.4 1914.6 1010.5 1916.6 1008.8C1918.6 1007.1 1920.7 994.1 1923.0 990.4C1925.3 986.7 1930.9 983.4 1934.0 980.9C1937.1 978.4 1943.5 971.9 1946.6 971.5C1949.7 971.1 1954.7 976.1 1957.6 977.8C1960.5 979.5 1966.1 984.3 1968.6 984.1C1971.1 983.9 1974.2 976.9 1976.5 976.2C1978.8 975.5 1983.2 978.2 1985.9 978.6C1988.6 979.0 1994.6 977.5 1996.9 979.3C1999.2 981.1 2001.5 987.9 2003.2 991.9C2004.9 995.9 2007.8 1004.6 2009.5 1009.2C2011.2 1013.8 2014.3 1021.1 2015.8 1026.6C2017.3 1032.1 2019.0 1043.5 2020.5 1050.2C2022.0 1056.9 2024.5 1072.9 2026.8 1076.9C2029.1 1080.9 2035.5 1077.8 2037.8 1080.1C2040.1 1082.4 2042.4 1088.7 2044.1 1094.2C2045.8 1099.7 2048.7 1115.3 2050.4 1121.0C2052.1 1126.7 2054.8 1132.9 2056.7 1136.7C2058.6 1140.5 2062.9 1144.8 2064.6 1149.3C2066.3 1153.8 2067.9 1165.7 2069.2 1170.8C2070.5 1175.9 2072.8 1182.7 2074.3 1187.4C2075.8 1192.1 2078.8 1201.8 2080.7 1206.4C2082.6 1211.0 2086.4 1218.8 2088.3 1221.7C2090.2 1224.6 2093.6 1225.1 2095.3 1227.8C2097.0 1230.5 2099.4 1238.1 2101.0 1242.0C2102.6 1245.9 2106.1 1252.4 2107.4 1256.8C2108.7 1261.2 2110.0 1269.9 2111.0 1275.0C2112.0 1280.1 2113.6 1294.6 2114.7 1295.0C2115.8 1295.4 2117.9 1282.4 2119.0 1278.0C2120.1 1273.6 2121.5 1264.8 2123.0 1262.0C2124.5 1259.2 2128.6 1258.8 2130.2 1256.8C2131.8 1254.8 2133.7 1249.6 2135.0 1247.0C2136.3 1244.4 2138.8 1240.4 2140.3 1237.5C2141.8 1234.6 2144.7 1227.9 2146.0 1225.0C2147.3 1222.1 2148.8 1217.7 2150.0 1216.0C2151.2 1214.3 2153.5 1212.7 2155.0 1212.0C2156.5 1211.3 2160.0 1209.4 2161.6 1210.5C2163.2 1211.6 2165.4 1216.4 2167.0 1220.0C2168.6 1223.6 2172.0 1232.8 2173.3 1237.5C2174.6 1242.2 2175.8 1251.4 2177.0 1255.0C2178.2 1258.6 2180.5 1263.1 2182.0 1264.6C2183.5 1266.1 2186.5 1265.5 2188.0 1266.0C2189.5 1266.5 2191.9 1265.5 2193.0 1268.0C2194.1 1270.5 2195.2 1284.7 2196.0 1285.0C2196.8 1285.3 2198.1 1269.3 2199.0 1270.0C2199.9 1270.7 2202.1 1285.7 2203.0 1290.0C2203.9 1294.3 2205.2 1300.7 2206.0 1302.0C2206.8 1303.3 2208.6 1300.3 2209.0 1300.0" stroke="#0000ff"/>
</g>
<path d="M1478 146.5V1084.5" stroke="#000" stroke-width="4" stroke-dasharray="9.5 14.31" stroke-linecap="round" fill="none"/>
<path d="M1720.3 1034.3L1697 1045" stroke="#000" stroke-width="4" fill="none"/>
<path d="M1654.2 1065L1690.4 1035.1L1702.2 1055.5Z" fill="#000"/>
<path d="M1737.9 1094V1120" stroke="#000" stroke-width="4" fill="none"/>
<path d="M1725 1117.7H1751L1737.9 1163.3Z" fill="#000"/>
</g>
</svg></body></html>
